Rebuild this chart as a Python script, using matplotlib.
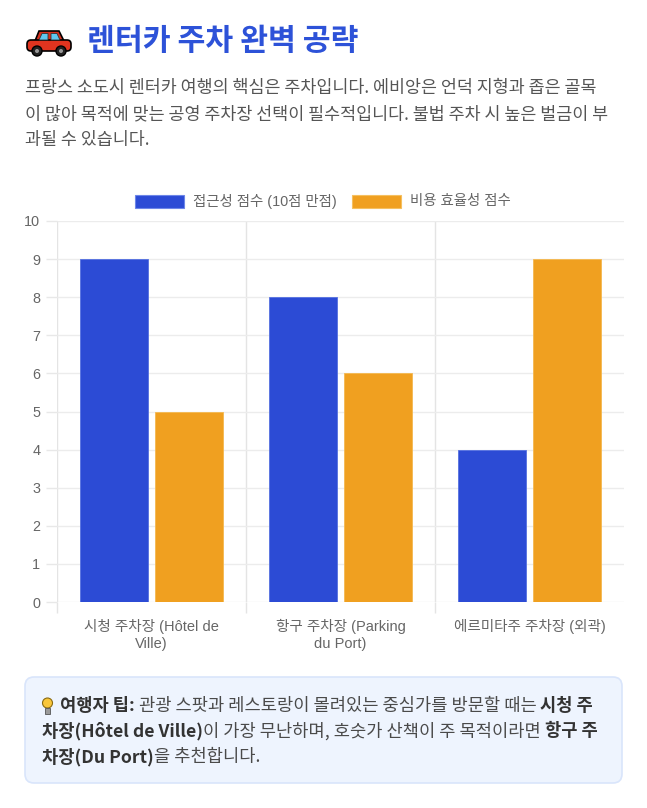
import numpy as np
import matplotlib
matplotlib.use("Agg")
import matplotlib.pyplot as plt
from matplotlib.patches import Rectangle, FancyBboxPatch, Circle, Polygon

# data
categories = ["시청 주차장 (Hôtel de\nVille)", "항구 주차장 (Parking\ndu Port)", "에르미타주 주차장 (외곽)"]
series_names = ["접근성 점수 (10점 만점)", "비용 효율성 점수"]
access_scores = [9, 8, 4]
cost_scores = [5, 6, 9]
y_ticks = list(range(0, 11))

title = "렌터카 주차 완벽 공략"
intro_lines = [
    "프랑스 소도시 렌터카 여행의 핵심은 주차입니다. 에비앙은 언덕 지형과 좁은 골목",
    "이 많아 목적에 맞는 공영 주차장 선택이 필수적입니다. 불법 주차 시 높은 벌금이 부",
    "과될 수 있습니다.",
]
tip_lines = [
    [("여행자 팁:", True), (" 관광 스팟과 레스토랑이 몰려있는 중심가를 방문할 때는 ", False), ("시청 주", True)],
    [("차장(Hôtel de Ville)", True), ("이 가장 무난하며, 호숫가 산책이 주 목적이라면 ", False), ("항구 주", True)],
    [("차장(Du Port)", True), ("을 추천합니다.", False)],
]

BLUE = "#2c4bd5"
ORANGE = "#f0a020"
KR = ["Noto Sans CJK KR", "DejaVu Sans"]
CHART = ["Liberation Sans", "Noto Sans CJK KR"]

W, H = 647, 808
fig = plt.figure(figsize=(W / 100, H / 100), dpi=100)
fig.patch.set_facecolor("white")

# overlay in pixel coordinates
ov = fig.add_axes([0, 0, 1, 1])
ov.set_xlim(0, W)
ov.set_ylim(H, 0)
ov.set_axis_off()
ov.patch.set_visible(False)

# car emoji (drawn)
ov.add_patch(Polygon([(35, 41), (39, 31), (59, 31), (64, 41)], closed=True,
                     facecolor="#d8301e", edgecolor="black", lw=1.2, zorder=3))
ov.add_patch(Polygon([(39, 40), (42, 33.5), (48, 33.5), (48, 40)], closed=True,
                     facecolor="#5fc8f0", edgecolor="#333", lw=0.6, zorder=4))
ov.add_patch(Polygon([(51, 40), (51, 33.5), (57, 33.5), (60, 40)], closed=True,
                     facecolor="#5fc8f0", edgecolor="#333", lw=0.6, zorder=4))
ov.add_patch(FancyBboxPatch((27, 40), 44, 11, boxstyle="round,pad=0,rounding_size=4",
                            facecolor="#e0341f", edgecolor="black", lw=1.2, zorder=3))
for cx in (37, 61):
    ov.add_patch(Circle((cx, 51), 5, facecolor="#222", edgecolor="black", zorder=5))
    ov.add_patch(Circle((cx, 51), 2, facecolor="#999", zorder=6))

ov.text(87, 41, title, fontsize=21.8, fontweight="bold", color="#2d52d8",
        family=KR, va="center", ha="left")

for i, line in enumerate(intro_lines):
    ov.text(25, 88 + i * 26, line, fontsize=12.5, color="#555555",
            family=KR, va="center", ha="left")

# legend (manual, Chart.js style)
ov.add_patch(Rectangle((135, 195), 49, 13, facecolor=BLUE, edgecolor="#6d86e8", lw=0.8))
ov.text(193, 201.5, series_names[0], fontsize=10.4, color="#666666", family=CHART, va="center")
ov.add_patch(Rectangle((352, 195), 49, 13, facecolor=ORANGE, edgecolor="#f5c060", lw=0.8))
ov.text(410, 201.5, series_names[1], fontsize=10.4, color="#666666", family=CHART, va="center")

# chart
ax = fig.add_axes([57 / W, (H - 602) / H, 567 / W, 381 / H])
ax.patch.set_visible(False)
x = np.arange(len(categories))
bw = 0.36
ax.bar(x - 0.2, access_scores, bw, color=BLUE, edgecolor="#5570e0", lw=0.6, zorder=3)
ax.bar(x + 0.2, cost_scores, bw, color=ORANGE, edgecolor="#f4b850", lw=0.6, zorder=3)
ax.set_xlim(-0.5, len(categories) - 0.5)
ax.set_ylim(0, 10)
for s in ax.spines.values():
    s.set_visible(False)
ax.set_yticks(y_ticks)
ax.set_yticklabels([str(v) for v in y_ticks], family=CHART, fontsize=10.4, color="#666666")
ax.set_xticks(x)
ax.set_xticklabels(categories, family=CHART, fontsize=10.5, color="#666666", linespacing=1.3)
ax.set_xticks([-0.5, 0.5, 1.5], minor=True)
ax.tick_params(axis="x", which="major", length=0, pad=12)
ax.tick_params(axis="x", which="minor", length=8, color="#e4e4e4", width=1)
ax.tick_params(axis="y", length=8, color="#e8e8e8", width=1, pad=4)
ax.grid(axis="y", color="#ececec", lw=1, zorder=0)
ax.grid(axis="x", which="minor", color="#e4e4e4", lw=1, zorder=0)
ax.grid(axis="x", which="major", visible=False)

# tip box
ov.add_patch(FancyBboxPatch((25, 677), 597, 106, boxstyle="round,pad=0,rounding_size=9",
                            facecolor="#eef4fe", edgecolor="#d9e5fb", lw=1.2))
# lightbulb
ov.add_patch(Circle((47.5, 703), 5, facecolor="#f9c63a", edgecolor="#8a6a10", lw=0.8, zorder=3))
ov.add_patch(Rectangle((45.3, 707.5), 4.4, 6, facecolor="#9a9a9a", edgecolor="#555", lw=0.6, zorder=3))

renderer = fig.canvas.get_renderer()


def text_w(s, **kw):
    t1 = ov.text(0, 0, "|" + s + "|", **kw)
    t2 = ov.text(0, 0, "||", **kw)
    w = t1.get_window_extent(renderer).width - t2.get_window_extent(renderer).width
    t1.remove()
    t2.remove()
    return w


for i, segs in enumerate(tip_lines):
    cx = 60 if i == 0 else 42
    cy = 706 + i * 25.5
    for s, bold in segs:
        kw = dict(fontsize=12.7, family=KR, color="#333333" if bold else "#4a4a4a",
                  fontweight="bold" if bold else "normal")
        ov.text(cx, cy, s, va="center", ha="left", **kw)
        cx += text_w(s, **kw)

fig.savefig("out.png", dpi=100, facecolor="white")
